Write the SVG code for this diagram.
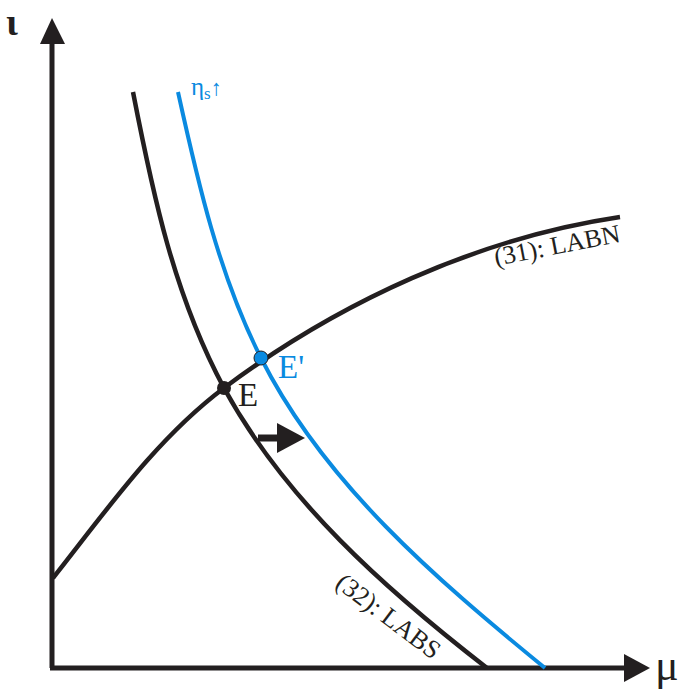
<svg xmlns="http://www.w3.org/2000/svg" width="688" height="692" viewBox="0 0 688 692">
<defs>
<style>
.ax{stroke:#231f20;stroke-width:5;fill:none}
.blk{stroke:#231f20;stroke-width:4.5;fill:none}
.blu{stroke:#0a8ae0;stroke-width:4;fill:none}
.t{font-family:"Liberation Serif","DejaVu Serif",serif;fill:#231f20}
.tb{font-family:"Liberation Serif","DejaVu Serif",serif;fill:#0a8ae0}
</style>
</defs>
<rect width="688" height="692" fill="#fff"/>
<g id="axes">
<line class="ax" x1="52" y1="668" x2="52" y2="40"/>
<polygon points="52,18 40,44 65,44" fill="#231f20"/>
<line class="ax" x1="50" y1="668" x2="627" y2="668"/>
<polygon points="650,668 624,654 624,682" fill="#231f20"/>
<text class="t" x="6" y="35" font-size="38" font-weight="bold">ι</text>
<text class="t" x="655" y="680" font-size="44">μ</text>
</g>
<g id="connectors">
<path id="labs" class="blk" d="M133,92 C153,195 174,295 224,388 C285,500 385,589 487,668"/>
<path id="labs2" class="blu" d="M178,92 C198,183 219,275 261,358 C324,483 436,579 545,668"/>
<path id="labn" class="blk" d="M53,578 C106,511 156,439 224,388 C339,302 478,238 620,217"/>
<g id="shift">
<line x1="258" y1="438" x2="282" y2="438" stroke="#231f20" stroke-width="7"/>
<polygon points="277,423 305,438 277,453" fill="#231f20"/>
</g>
</g>
<g id="E">
<circle cx="224" cy="388" r="7" fill="#231f20"/>
<text class="t" x="238" y="406" font-size="33">E</text>
</g>
<g id="Eprime">
<circle cx="261" cy="358" r="7" fill="#0a8ae0" stroke="#231f20" stroke-width="1"/>
<text class="tb" x="278" y="378" font-size="33">E'</text>
</g>
<g id="labels">
<text class="tb" x="191" y="95" font-size="25">η<tspan font-size="17" dy="4">s</tspan><tspan dy="-4" font-size="22">↑</tspan></text>
<text class="t" font-size="26" transform="translate(496,266) rotate(-11)">(31): LABN</text>
<text class="t" font-size="26" transform="translate(334,586) rotate(37)">(32): LABS</text>
</g>
</svg>
